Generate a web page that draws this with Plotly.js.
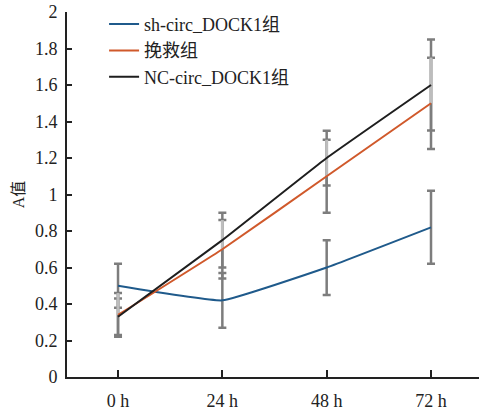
<!DOCTYPE html>
<html><head><meta charset="utf-8">
<script src="https://cdn.plot.ly/plotly-3.0.1.min.js"></script>
<style>html,body{margin:0;padding:0;background:#fff}#c{width:479px;height:412px}</style>
</head><body><div id="c"></div>
<script>
const categories = ['0 h', '24 h', '48 h', '72 h'];
const seriesNames = ['sh-circ_DOCK1组', '挽救组', 'NC-circ_DOCK1组'];
const shValues = [0.50, 0.42, 0.60, 0.82];
const shErr = [0.12, 0.15, 0.15, 0.20];
const rescueValues = [0.34, 0.70, 1.10, 1.50];
const rescueErr = [0.12, 0.16, 0.20, 0.25];
const ncValues = [0.33, 0.75, 1.20, 1.60];
const ncErr = [0.10, 0.15, 0.15, 0.25];
const yTicks = [0, 0.2, 0.4, 0.6, 0.8, 1, 1.2, 1.4, 1.6, 1.8, 2];

const colors = ['#1f5a8b', '#d0592b', '#1e1e1e'];
const darkGray = '#7d7d7d', lightGray = '#bdbdbd';
const fam = '"Liberation Serif", "Noto Sans CJK SC", serif';
const font = {family: fam, size: 18, color: '#222'};

function errTrace(y, e, color, thick, width, upperOnly) {
  return {
    x: categories, y: y, type: 'scatter', mode: 'markers',
    marker: {size: 1, opacity: 0}, showlegend: false, hoverinfo: 'skip',
    error_y: upperOnly
      ? {type: 'data', symmetric: false, array: e, arrayminus: e.map(() => 0), color: color, thickness: thick, width: width}
      : {type: 'data', array: e, color: color, thickness: thick, width: width}
  };
}
function lineTrace(y, name, color) {
  return {x: categories, y: y, name: name, type: 'scatter', mode: 'lines',
    line: {color: color, width: 2, shape: 'spline', smoothing: 0.3}, hoverinfo: 'skip'};
}

const data = [
  errTrace(shValues, shErr, darkGray, 2.5, 4),
  errTrace(ncValues, ncErr, darkGray, 2.5, 4),
  errTrace(rescueValues, rescueErr, darkGray, 2.5, 4),
  errTrace(rescueValues, rescueErr, lightGray, 3, 0, true),
  lineTrace(shValues, seriesNames[0], colors[0]),
  lineTrace(rescueValues, seriesNames[1], colors[1]),
  lineTrace(ncValues, seriesNames[2], colors[2])
];

const layout = {
  width: 479, height: 412,
  margin: {l: 67, r: 0, t: 12, b: 35},
  paper_bgcolor: '#fff', plot_bgcolor: '#fff',
  font: font,
  showlegend: true,
  legend: {x: 0.09, y: 1.017, xanchor: 'left', yanchor: 'top', bgcolor: 'rgba(0,0,0,0)',
    font: font, tracegroupgap: 0, itemwidth: 30},
  xaxis: {
    type: 'category', range: [-0.489, 3.46], showgrid: false, zeroline: false,
    showline: true, linecolor: '#222', linewidth: 2,
    ticks: 'inside', ticklen: 7, tickwidth: 2, tickcolor: '#222',
    tickfont: font, ticklabelstandoff: 6
  },
  yaxis: {
    range: [0, 2], tickvals: yTicks, ticktext: yTicks.map(String),
    showgrid: false, zeroline: false,
    showline: true, linecolor: '#222', linewidth: 2,
    ticks: 'inside', ticklen: 5, tickwidth: 2, tickcolor: '#222',
    tickfont: font, ticklabelstandoff: 4,
    title: {text: 'A值', font: {family: fam, size: 16, color: '#222'}, standoff: 6}
  }
};
Plotly.newPlot('c', data, layout, {staticPlot: true, displayModeBar: false});
</script></body></html>
